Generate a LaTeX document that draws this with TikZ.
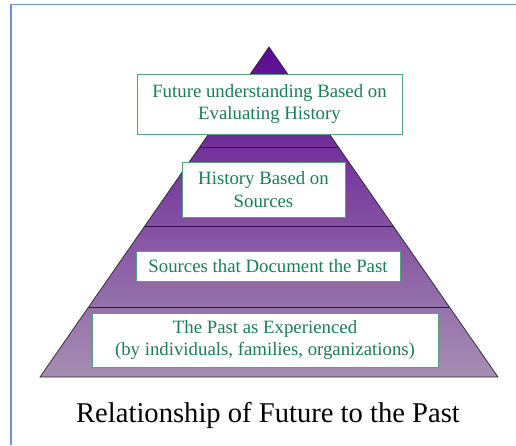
\documentclass[tikz,border=0pt]{standalone}
\usepackage{fontspec}
\setmainfont{Liberation Serif}
\usetikzlibrary{calc,positioning}
\definecolor{framecol}{HTML}{6E8FE0}
\definecolor{topviolet}{HTML}{5A0A92}
\definecolor{baseviolet}{HTML}{A68DB2}
\definecolor{boxgreen}{HTML}{4FA47A}
\definecolor{textgreen}{HTML}{1B7D55}
\definecolor{bandline}{HTML}{2A1A40}

\begin{document}
\begin{tikzpicture}[x=1pt,y=-1pt]
      \tikzstyle{gbox} = [draw=boxgreen, fill=white, text=textgreen, line width=0.9pt, rectangle, inner sep=0pt, align=center, font=\fontsize{18.8}{22.5}\selectfont]
      \tikzstyle{band} = [draw=bandline, line width=0.9pt]

      \useasboundingbox (0,0) rectangle (516,445);
      \draw[framecol, line width=1.2pt] (11,445) -- (11,4.5) -- (516,4.5);

      \coordinate (apex) at (269,47);
      \coordinate (bl) at (40,377);
      \coordinate (br) at (498,377);
      \shade[top color=topviolet, bottom color=baseviolet] (apex) -- (bl) -- (br) -- cycle;
      \draw[black!85, line width=0.7pt] (apex) -- (bl) -- (br) -- cycle;

      % band edges
      \foreach \t/\n in {0.303/one, 0.545/two, 0.788/three} {
        \draw[band] ($(apex)!\t!(bl)$) -- ($(apex)!\t!(br)$);
      }

      \node[gbox, minimum width=265pt, minimum height=60pt] (future) at (269.5,104) {Future understanding Based on\\ Evaluating History};
      \node[gbox, minimum width=163pt, minimum height=55pt] (history) at (263.5,189.5) {History Based on\\ Sources};
      \node[gbox, minimum width=264pt, minimum height=30pt] (sources) at (268,266) {Sources that Document the Past};
      \node[gbox, minimum width=346pt, minimum height=54pt] (past) at (265,340) {The Past as Experienced\\ (by individuals, families, organizations)};

      \node[font=\fontsize{28.6}{32}\selectfont, text=black] (title) at (268,415) {Relationship of Future to the Past};

    \end{tikzpicture}
\end{document}
